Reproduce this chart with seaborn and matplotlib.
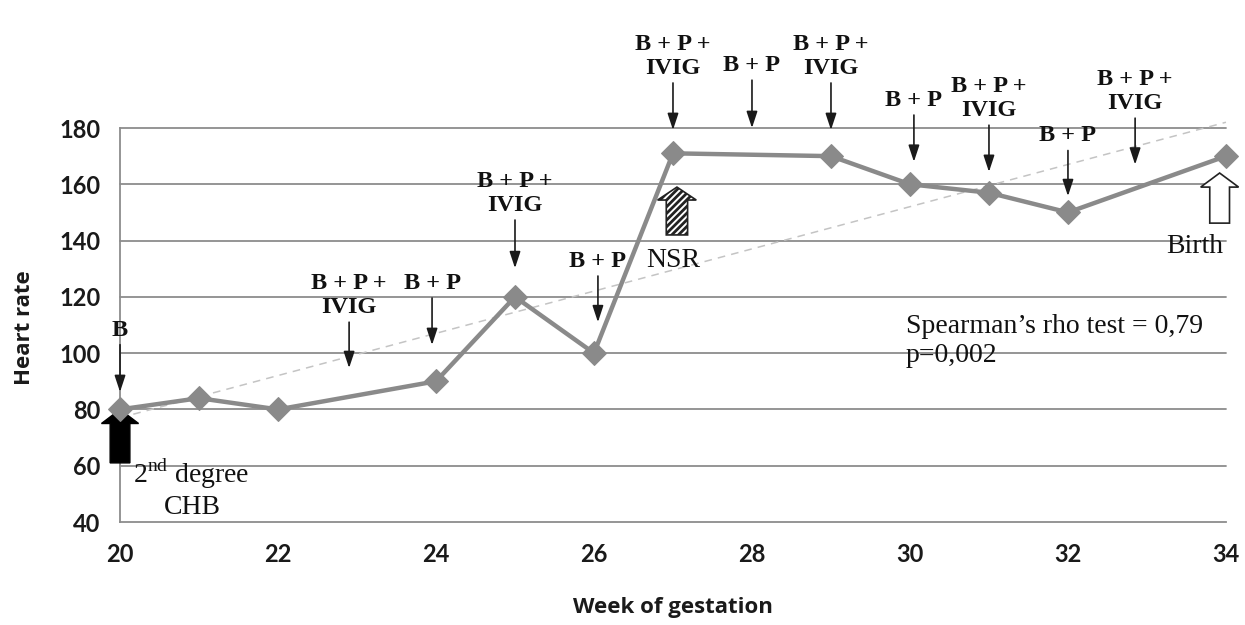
import numpy as np
import pandas as pd
import seaborn as sns
import matplotlib
matplotlib.use("Agg")
import matplotlib.pyplot as plt
from matplotlib.patches import FancyArrow

# Fetal heart rate by week of gestation
weeks = [20, 21, 22, 24, 25, 26, 27, 29, 30, 31, 32, 34]
heart_rate = [80, 84, 80, 90, 120, 100, 171, 170, 160, 157, 150, 170]

# Treatment given at each visit (B = betamethasone, P = plasmapheresis, IVIG)
treat_weeks = [20, 22.9, 23.95, 25, 26.05, 27, 28, 29, 30.05, 31, 32, 32.85]
treat_labels = ["B", "B + P +\nIVIG", "B + P", "B + P +\nIVIG", "B + P",
                "B + P +\nIVIG", "B + P", "B + P +\nIVIG", "B + P",
                "B + P +\nIVIG", "B + P", "B + P +\nIVIG"]
arrow_top = [103, 111, 119.6, 147.3, 127.4, 196, 197, 196, 184.6, 181, 172, 183.5]
arrow_tip = [86.2, 94.7, 102.9, 130.2, 111, 179.3, 180, 179.3, 168, 164.4, 155.8, 167]

x_ticks = [20, 22, 24, 26, 28, 30, 32, 34]
y_ticks = [40, 60, 80, 100, 120, 140, 160, 180]

df = pd.DataFrame({"week": weeks, "hr": heart_rate})

sns.set_style("white")
plt.rcParams["mathtext.fontset"] = "custom"
plt.rcParams["mathtext.rm"] = "Liberation Serif"
plt.rcParams["hatch.linewidth"] = 2.0

fig = plt.figure(figsize=(12.45, 6.25), dpi=100)
ax = fig.add_axes([0.0964, 0.1648, 0.8883, 0.6304])

grid_c = "#8c8c8c"
for yv in y_ticks[1:]:
    ax.axhline(yv, color=grid_c, lw=1.3, zorder=1)

# linear trend line
coef = np.polyfit(weeks, heart_rate, 1)
tx = np.array([20, 34])
ax.plot(tx, np.polyval(coef, tx), color="#c4c4c4", lw=1.1, ls=(0, (5, 4)), zorder=2)

sns.lineplot(data=df, x="week", y="hr", ax=ax, color="#8a8a8a", lw=3.2,
             marker="D", markersize=12.5, markeredgecolor="#8a8a8a", zorder=4)
for ln in ax.lines:
    ln.set_clip_on(False)

ax.set_xlim(20, 34)
ax.set_ylim(40, 180)
ax.set_xticks(x_ticks)
ax.set_yticks(y_ticks)
for s in ["top", "right"]:
    ax.spines[s].set_visible(False)
for s in ["left", "bottom"]:
    ax.spines[s].set_color(grid_c)
    ax.spines[s].set_linewidth(1.3)
ax.tick_params(axis="y", direction="inout", length=10, width=1.2, color=grid_c, pad=9)
ax.tick_params(axis="x", direction="out", length=6, width=1.2, color=grid_c, pad=9)
for lab in ax.get_xticklabels() + ax.get_yticklabels():
    lab.set_fontfamily("Lato")
    lab.set_fontweight("bold")
    lab.set_fontsize(17)
    lab.set_color("#1a1a1a")
ax.set_xlabel("")
ax.set_ylabel("")

fig.text(0.5405, 1 - 607 / 625, "Week of gestation", ha="center", va="center",
         fontfamily="Open Sans", fontweight="bold", fontsize=16, color="#1a1a1a")
fig.text(25 / 1245, 1 - 328 / 625, "Heart rate", ha="center", va="center",
         rotation=90, fontfamily="Open Sans", fontweight="bold", fontsize=16,
         color="#1a1a1a")

serif = "Liberation Serif"
txt_c = "#111111"

# treatment arrows and labels
for xw, lab, top, tip in zip(treat_weeks, treat_labels, arrow_top, arrow_tip):
    ax.annotate("", xy=(xw, tip), xytext=(xw, top),
                arrowprops=dict(arrowstyle="-|>,head_width=0.33,head_length=1.0",
                                color="#1a1a1a", lw=1.2, shrinkA=0, shrinkB=0),
                annotation_clip=False, zorder=5)
    ax.annotate(lab, xy=(xw, top), xytext=(0, 3), textcoords="offset points",
                ha="center", va="bottom", fontfamily=serif, fontweight="bold",
                fontsize=17.5, color=txt_c, linespacing=1.2,
                annotation_clip=False)

# event arrows
ax.add_patch(FancyArrow(20, 61, 0, 19, width=0.25, head_width=0.47,
                        head_length=5.0, length_includes_head=True,
                        facecolor="black", edgecolor="black", lw=1, zorder=3,
                        clip_on=False))
ax.add_patch(FancyArrow(27.05, 142, 0, 17, width=0.27, head_width=0.49,
                        head_length=4.6, length_includes_head=True,
                        facecolor="white", edgecolor="#222222", hatch="/////",
                        lw=1.2, zorder=3))
ax.add_patch(FancyArrow(33.92, 146.2, 0, 17.8, width=0.25, head_width=0.48,
                        head_length=5.0, length_includes_head=True,
                        facecolor="white", edgecolor="#222222", lw=1.2, zorder=3,
                        clip_on=False))

ax.text(20.9, 57, "2$^{\\mathrm{nd}}$ degree", ha="center", va="center",
        fontfamily=serif, fontsize=20, color=txt_c)
ax.text(20.91, 45, "CHB", ha="center", va="center",
        fontfamily=serif, fontsize=20, color=txt_c)
ax.text(27.0, 133, "NSR", ha="center", va="center",
        fontfamily=serif, fontsize=20, color=txt_c)
ax.text(33.6, 138, "Birth", ha="center", va="center",
        fontfamily=serif, fontsize=20, color=txt_c)
ax.text(29.95, 109.3, "Spearman\u2019s rho test = 0,79", ha="left", va="center",
        fontfamily=serif, fontsize=20, color=txt_c)
ax.text(29.95, 99, "p=0,002", ha="left", va="center",
        fontfamily=serif, fontsize=20, color=txt_c)

fig.savefig("out.png", dpi=100)
